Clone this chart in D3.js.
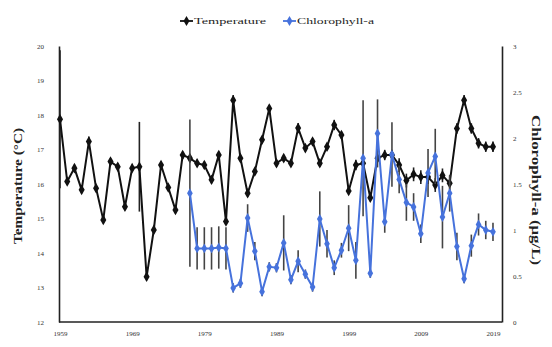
<!DOCTYPE html>
<html><head><meta charset="utf-8">
<script src="https://cdn.jsdelivr.net/npm/d3@7"></script>
<style>body{margin:0;background:#fff}svg{display:block}</style>
</head><body>
<svg id="c" width="552" height="347"></svg>
<script>
const years = d3.range(1959, 2020);
const temperature = [17.88,16.07,16.46,15.83,17.23,15.88,14.96,16.65,16.5,15.34,
16.46,16.5,13.31,14.67,16.55,15.9,15.25,16.84,16.75,16.6,
16.55,16.12,16.84,14.91,18.43,16.75,15.73,16.36,17.28,18.19,
16.6,16.75,16.6,17.62,17.04,17.23,16.6,17.08,17.71,17.42,
15.8,16.55,16.6,15.6,16.75,16.84,16.84,16.55,16.1,16.28,
16.2,16.2,15.97,16.25,16.02,17.61,18.43,17.61,17.18,17.08,17.08];
const temperatureErr = [2.0,0.1,0.1,0.1,0.15,0.1,0.1,0.1,0.1,0.1,
0.1,1.3,0.1,0.1,0.1,0.1,0.1,0.1,0.1,0.1,
0.1,0.1,0.1,0.1,0.15,0.1,0.1,0.1,0.1,0.1,
0.1,0.1,0.1,0.15,0.1,0.1,0.1,0.1,0.15,0.1,
0.1,0.15,0.1,0.1,0.1,0.15,0.15,0.2,0.2,0.2,
0.2,0.2,0.2,0.2,0.2,0.15,0.15,0.15,0.15,0.15,0.15];
const chlYears = d3.range(1977, 2020);
const chlorophyll = [1.40,0.80,0.80,0.80,0.81,0.80,0.37,0.42,1.13,0.77,
0.33,0.60,0.59,0.86,0.46,0.66,0.52,0.38,1.12,0.85,
0.59,0.78,1.02,0.67,1.78,0.53,2.05,1.09,1.82,1.55,
1.30,1.25,0.96,1.62,1.80,1.14,1.40,0.82,0.47,0.83,
1.06,1.00,0.98];
const chlorophyllErr = [0.8,0.23,0.23,0.23,0.23,0.23,0.05,0.05,0.15,0.1,
0.05,0.05,0.05,0.3,0.05,0.12,0.05,0.05,0.3,0.15,
0.08,0.08,0.25,0.2,0.63,0.05,0.37,0.12,0.35,0.15,
0.2,0.15,0.1,0.26,0.3,0.34,0.2,0.15,0.05,0.12,
0.12,0.1,0.1];
const xTicks = [1959,1969,1979,1989,1999,2009,2019];
const tTicks = [12,13,14,15,16,17,18,19,20];
const cTicks = [0,0.5,1,1.5,2,2.5,3];

const svg = d3.select("#c");
const L=59, R=502, T=46, B=322;
const x = d3.scaleLinear().domain([1959, 2020.25]).range([60, R]);
const yT = d3.scaleLinear().domain([12,20]).range([B,T]);
const yC = d3.scaleLinear().domain([0,3]).range([B,T]);
const BLUE = "#4672dc";
const serif = "'Liberation Serif','Times New Roman',serif";

// axes
const ax = svg.append("g").attr("font-family", serif);
const gl = ax.append("g").attr("transform",`translate(${L},0)`)
  .call(d3.axisLeft(yT).tickValues(tTicks).tickSize(0).tickPadding(15).tickFormat(d3.format("d")));
const gr = ax.append("g").attr("transform",`translate(${R},0)`)
  .call(d3.axisRight(yC).tickValues(cTicks).tickSize(0).tickPadding(11).tickFormat(d=>String(d)));
const gb = ax.append("g").attr("transform",`translate(0,${B})`)
  .call(d3.axisBottom(x).tickValues(xTicks).tickSize(0).tickPadding(9).tickFormat(d3.format("d")));
[gl,gr,gb].forEach(g=>{
  g.select(".domain").attr("stroke","#222").attr("stroke-width",1.6);
  g.selectAll("text").attr("font-size",7).attr("fill","#333").attr("font-family",serif);
});
gb.select(".domain").attr("d",`M${L},0H${R}`);

const tData = years.map((yr,i)=>({yr, v:temperature[i], e:temperatureErr[i]}));
const cData = chlYears.map((yr,i)=>({yr, v:chlorophyll[i], e:chlorophyllErr[i]}));
const diamond = d3.symbol().type(d3.symbolDiamond);

// temperature
svg.append("g").selectAll("line").data(tData).join("line")
  .attr("x1",d=>x(d.yr)).attr("x2",d=>x(d.yr))
  .attr("y1",d=>yT(d.v-d.e)).attr("y2",d=>yT(d.v+d.e))
  .attr("stroke","#222").attr("stroke-width",1.6);
svg.append("path").datum(tData)
  .attr("d",d3.line().x(d=>x(d.yr)).y(d=>yT(d.v)))
  .attr("fill","none").attr("stroke","#111").attr("stroke-width",2);
svg.append("g").selectAll("path").data(tData).join("path")
  .attr("d",diamond.size(32)())
  .attr("transform",d=>`translate(${x(d.yr)},${yT(d.v)})`)
  .attr("fill","#111");

// chlorophyll
svg.append("g").selectAll("line").data(cData).join("line")
  .attr("x1",d=>x(d.yr)).attr("x2",d=>x(d.yr))
  .attr("y1",d=>yC(d.v-d.e)).attr("y2",d=>yC(d.v+d.e))
  .attr("stroke","#444").attr("stroke-width",1.6);
svg.append("path").datum(cData)
  .attr("d",d3.line().x(d=>x(d.yr)).y(d=>yC(d.v)))
  .attr("fill","none").attr("stroke",BLUE).attr("stroke-width",2);
svg.append("g").selectAll("path").data(cData).join("path")
  .attr("d",diamond.size(28)())
  .attr("transform",d=>`translate(${x(d.yr)},${yC(d.v)})`)
  .attr("fill",BLUE);

// axis titles
svg.append("text").attr("transform","translate(22,186) rotate(-90)")
  .attr("text-anchor","middle").attr("font-family",serif).attr("font-weight","bold")
  .attr("font-size",12).attr("fill","#222").attr("textLength",116).attr("lengthAdjust","spacingAndGlyphs")
  .text("Temperature (°C)");
svg.append("text").attr("transform","translate(532,190) rotate(90)")
  .attr("text-anchor","middle").attr("font-family",serif).attr("font-weight","bold")
  .attr("font-size",12).attr("fill","#222").attr("textLength",150).attr("lengthAdjust","spacingAndGlyphs")
  .text("Chlorophyll-a (μg/L)");

// legend
const lg = svg.append("g").attr("font-family",serif);
const legend = [{name:"Temperature", color:"#111", x:180, w:72},{name:"Chlorophyll-a", color:BLUE, x:283, w:77}];
legend.forEach(d=>{
  lg.append("line").attr("x1",d.x).attr("x2",d.x+13).attr("y1",21).attr("y2",21)
    .attr("stroke",d.color).attr("stroke-width",1.8);
  lg.append("path").attr("d",diamond.size(30)()).attr("transform",`translate(${d.x+6.5},21)`).attr("fill",d.color);
  lg.append("text").attr("x",d.x+14).attr("y",24).attr("font-size",9).attr("fill","#222")
    .attr("textLength",d.w).attr("lengthAdjust","spacingAndGlyphs").text(d.name);
});
</script>
</body></html>
